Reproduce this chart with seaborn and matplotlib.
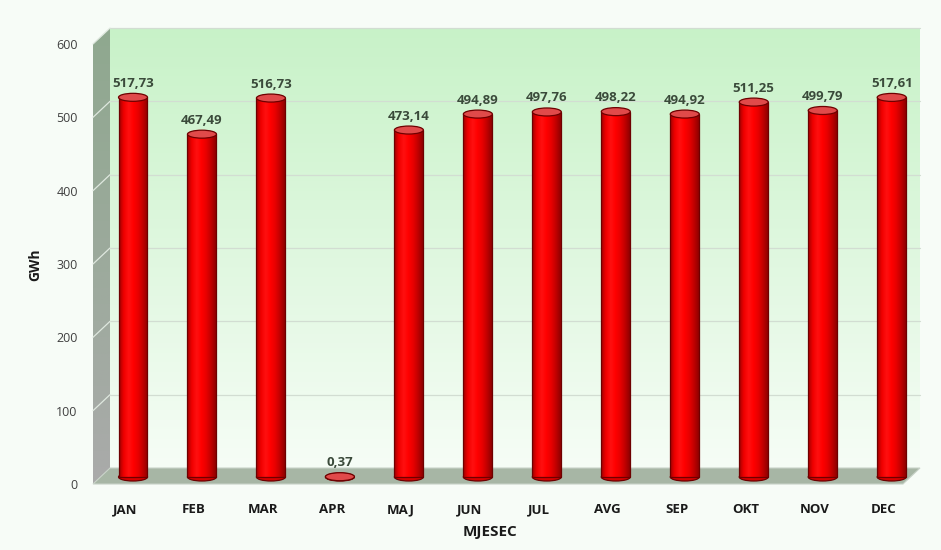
import matplotlib
matplotlib.use("Agg")
import matplotlib.pyplot as plt
import matplotlib.patches as mpatches
from matplotlib.colors import LinearSegmentedColormap
import numpy as np
import seaborn as sns

# data
months = ["JAN", "FEB", "MAR", "APR", "MAJ", "JUN", "JUL", "AVG", "SEP", "OKT", "NOV", "DEC"]
gwh = [517.73, 467.49, 516.73, 0.37, 473.14, 494.89, 497.76, 498.22, 494.92, 511.25, 499.79, 517.61]
y_ticks = [0, 100, 200, 300, 400, 500, 600]
value_labels = [f"{v:.2f}".replace(".", ",") for v in gwh]

sns.set_theme(style="white")
plt.rcParams['font.family'] = ['Open Sans', 'DejaVu Sans']

# fake 3d depth, in data units
x0, x1 = -0.464, 11.28
px_x = 810 / (x1 - x0)
px_y = 440 / 600
dx, dy = 17 / px_x, 16 / px_y
dxh, dyh = 8 / px_x, 7 / px_y

# axes covers front plane + depth so the walls are not clipped
ax_w = 810 + 17
ax_h = 440 + 16
fig = plt.figure(figsize=(9.41, 5.5), dpi=100, facecolor='#f7fcf7')
ax = fig.add_axes([93 / 941, 66 / 550, ax_w / 941, ax_h / 550])
ax.set_facecolor('none')

# cylinders body via seaborn
sns.barplot(x=months, y=gwh, ax=ax, color='red', saturation=1, width=0.42,
            edgecolor='#6e0000', linewidth=0.9, zorder=4)

# back wall gradient
wall_cmap = LinearSegmentedColormap.from_list('wall', ['#f6fdf6', '#c8f2c8'])
grad = np.linspace(0, 1, 256).reshape(-1, 1)
ax.imshow(grad, cmap=wall_cmap, origin='lower', aspect='auto',
          extent=[x0 + dx, x1 + dx, dy, 600 + dy], zorder=0)

# left wall
side_cmap = LinearSegmentedColormap.from_list('side', ['#aaaaaa', '#9caa9c', '#8fa88f'])
side = mpatches.Polygon([(x0, 0), (x0, 600), (x0 + dx, 600 + dy), (x0 + dx, dy)],
                        closed=True, transform=ax.transData)
im2 = ax.imshow(grad, cmap=side_cmap, origin='lower', aspect='auto',
                extent=[x0, x0 + dx, 0, 600 + dy], zorder=1)
im2.set_clip_path(side)

# floor
floor = mpatches.Polygon([(x0, 0), (x1, 0), (x1 + dx, dy), (x0 + dx, dy)], closed=True,
                         facecolor='#a7b6a5', edgecolor='#c8d2c8', linewidth=0.8,
                         zorder=2, clip_on=False)
ax.add_patch(floor)

# gridlines on back wall and left wall
for t in y_ticks[1:]:
    ax.plot([x0 + dx, x1 + dx], [t + dy, t + dy], color='#d2ddd2', lw=0.9, zorder=1, clip_on=False)
    ax.plot([x0, x0 + dx], [t, t + dy], color='#dfe8df', lw=0.9, zorder=2, clip_on=False)

# shade cylinders + ellipses
cyl_cmap = LinearSegmentedColormap.from_list('cyl', ['#a00000', '#f00000', '#ff1010', '#ff0000',
                                                     '#e80000', '#c00000', '#900000'])
hgrad = np.linspace(0, 1, 128).reshape(1, -1)
ell_h = 8 / px_y
for bar, v, lab in zip(ax.containers[0], gwh, value_labels):
    bar.set_x(bar.get_x() + dxh)
    bar.set_y(dyh)
    bar.set_facecolor('none')
    bx, bw = bar.get_x(), bar.get_width()
    cx = bx + bw / 2
    img = ax.imshow(hgrad, cmap=cyl_cmap, aspect='auto',
                    extent=[bx, bx + bw, dyh, dyh + v], zorder=3.5)
    img.set_clip_path(bar)
    bottom = mpatches.Ellipse((cx, dyh), bw, ell_h, facecolor='#d80000',
                              edgecolor='#6e0000', lw=0.9, zorder=3, clip_on=False)
    ax.add_patch(bottom)
    top = mpatches.Ellipse((cx, dyh + v), bw, ell_h, facecolor='#e04a4a',
                           edgecolor='#6e0000', lw=0.9, zorder=6, clip_on=False)
    ax.add_patch(top)
    ax.text(cx, dyh + v + 14 / px_y, lab, ha='center', va='center', fontsize=9.5,
            fontweight='bold', color='#3a4a3a', zorder=7)

ax.set_xlim(x0, x1 + dx)
ax.set_ylim(0, 600 + dy)
ax.set_yticks(y_ticks)
for s in ax.spines.values():
    s.set_visible(False)
ax.tick_params(axis='y', length=0, pad=11, labelsize=9, labelcolor='#404040')
ax.tick_params(axis='x', length=0, pad=14, labelsize=9.5, labelcolor='#1a1a1a')
for t in ax.get_xticklabels():
    t.set_fontweight('bold')

ax.set_xlabel('MJESEC', fontweight='bold', fontsize=11, color='#1a1a1a')
ax.set_ylabel('GWh', fontweight='bold', fontsize=10, color='#1a1a1a')
ax.xaxis.set_label_coords((490 - 93) / ax_w, (484 - 525) / ax_h)
ax.yaxis.set_label_coords((42 - 93) / ax_w, (484 - 265) / ax_h)

fig.savefig('out.png', dpi=100, facecolor=fig.get_facecolor())
